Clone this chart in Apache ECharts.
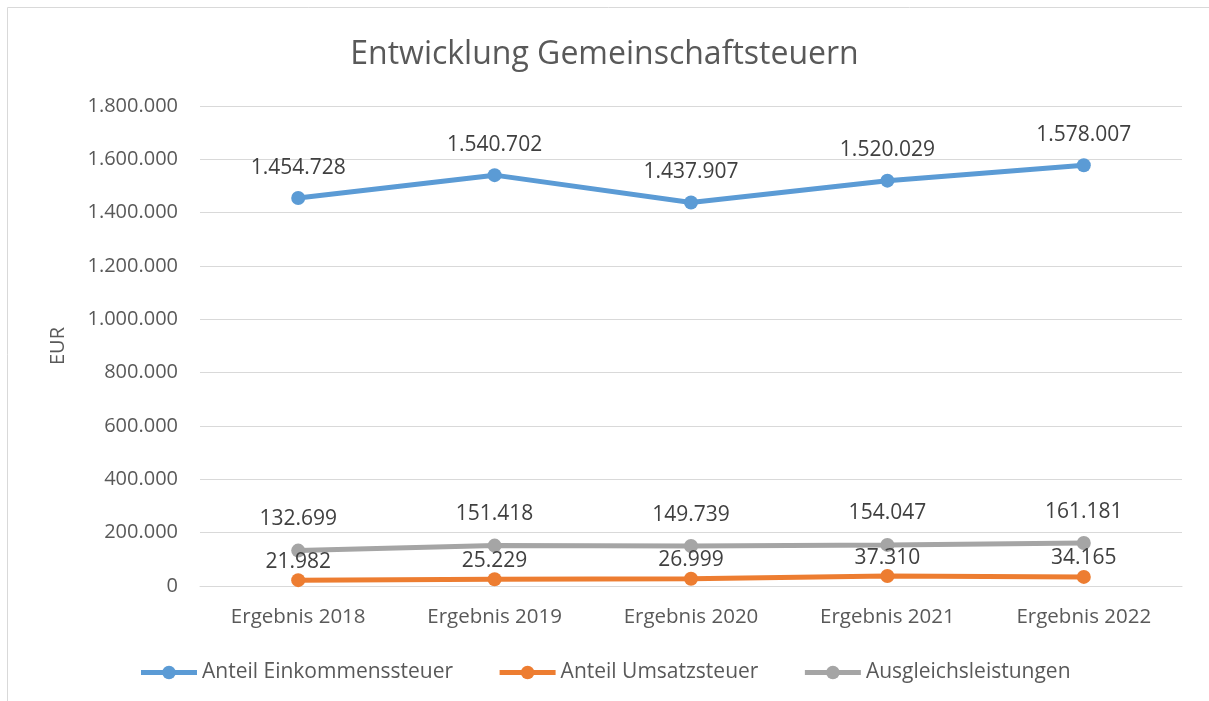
<!DOCTYPE html>
<html>
<head>
<meta charset="utf-8">
<title>Entwicklung Gemeinschaftsteuern</title>
<script src="https://cdn.jsdelivr.net/npm/echarts@6/dist/echarts.min.js"></script>
<style>
  html, body { margin: 0; padding: 0; background: #fff; }
  #chart { width: 1209px; height: 701px; }
</style>
</head>
<body>
<div id="chart"></div>
<script>
// data
const categories = ['Ergebnis 2018', 'Ergebnis 2019', 'Ergebnis 2020', 'Ergebnis 2021', 'Ergebnis 2022'];
const einkommensteuer = [1454728, 1540702, 1437907, 1520029, 1578007];
const umsatzsteuer = [21982, 25229, 26999, 37310, 34165];
const ausgleich = [132699, 151418, 149739, 154047, 161181];

// 1234567 -> 1.234.567
function fmt(v) {
  return String(Math.round(v)).replace(/\B(?=(\d{3})+(?!\d))/g, '.');
}

const font = "'Open Sans', 'Noto Sans', sans-serif";
const textColor = '#595959';

function lineSeries(name, data, color, labelDist) {
  return {
    name,
    type: 'line',
    data,
    symbol: 'circle',
    symbolSize: 14,
    lineStyle: { width: 5, color },
    itemStyle: { color },
    label: {
      show: true,
      position: 'top',
      distance: labelDist,
      color: '#404040',
      fontFamily: font,
      fontSize: 21,
      formatter: (p) => fmt(p.value),
    },
    emphasis: { disabled: true },
  };
}

const chart = echarts.init(document.getElementById('chart'));
chart.setOption({
  animation: false,
  graphic: [{
    type: 'rect',
    shape: { x: 7.5, y: 7.5, width: 1220, height: 720 },
    style: { fill: 'none', stroke: '#D9D9D9', lineWidth: 1 },
    silent: true,
  }],
  title: {
    text: 'Entwicklung Gemeinschaftsteuern',
    left: 'center',
    top: 34,
    textStyle: { color: textColor, fontFamily: font, fontSize: 32, fontWeight: 'normal' },
  },
  grid: { left: 200, right: 27, top: 106, bottom: 115, containLabel: false },
  legend: {
    bottom: 13,
    left: 'center',
    itemWidth: 56,
    itemHeight: 17,
    itemGap: 44,
    lineStyle: { width: 5 },
    textStyle: { color: textColor, fontFamily: font, fontSize: 21 },
    data: ['Anteil Einkommenssteuer', 'Anteil Umsatzsteuer', 'Ausgleichsleistungen'],
  },
  xAxis: {
    type: 'category',
    data: categories,
    axisLine: { lineStyle: { color: '#D9D9D9' } },
    axisTick: { show: false },
    axisLabel: { color: textColor, fontFamily: font, fontSize: 20.5, margin: 21 },
  },
  yAxis: {
    type: 'value',
    min: 0,
    max: 1800000,
    interval: 200000,
    name: 'EUR',
    nameLocation: 'middle',
    nameGap: 132,
    nameTextStyle: { color: textColor, fontFamily: font, fontSize: 20 },
    axisLine: { show: false },
    axisTick: { show: false },
    splitLine: { lineStyle: { color: '#D9D9D9', width: 1 } },
    axisLabel: { color: textColor, fontFamily: font, fontSize: 20, margin: 22, formatter: fmt },
  },
  series: [
    lineSeries('Anteil Einkommenssteuer', einkommensteuer, '#5B9BD5', 13),
    lineSeries('Anteil Umsatzsteuer', umsatzsteuer, '#ED7D31', 1),
    lineSeries('Ausgleichsleistungen', ausgleich, '#A5A5A5', 14),
  ],
});
</script>
</body>
</html>
